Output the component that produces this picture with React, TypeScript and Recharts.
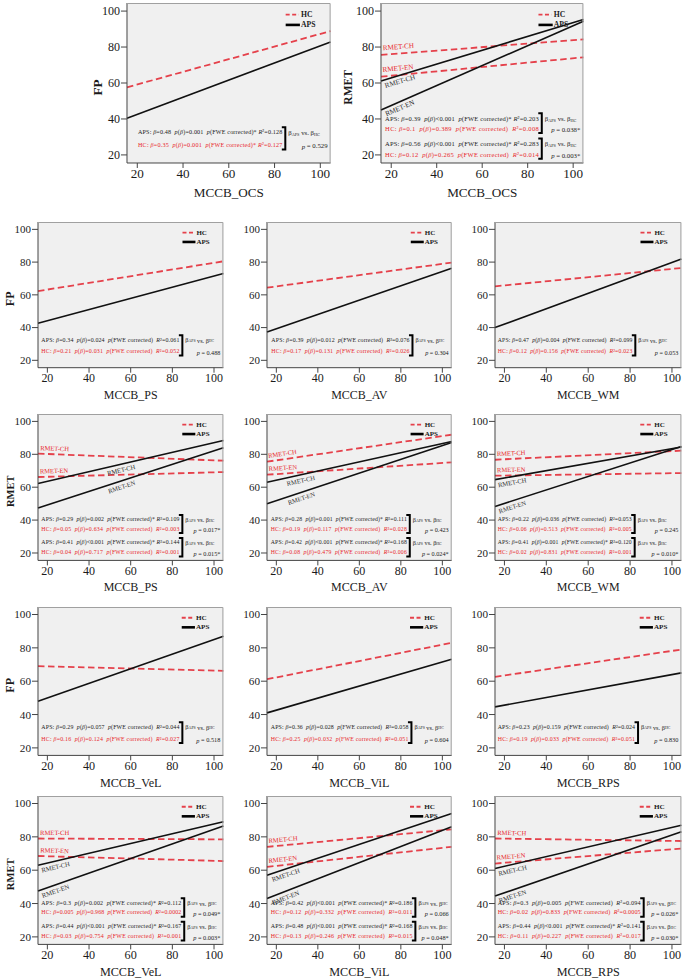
import React from 'react';
import { LineChart, Line, XAxis, YAxis, ReferenceArea } from 'recharts';

// MCCB domains, in panel order
const MEASURES = ['OCS', 'PS', 'AV', 'WM', 'VeL', 'ViL', 'RPS'];
const AXIS_TICKS = [20, 40, 60, 80, 100];
const LO = 15.5;
const HI = 104.5;
// the fitted lines run across the whole plot
const FIT_X = [LO, HI];

// fitted values at the left and right plot edge, one pair per domain
const FP_HC = [[57.6, 88.9], [62.3, 80.5], [64.4, 79.7], [65.2, 76.4], [69, 66.2], [61.2, 83], [62.6, 79]];
const FP_APS = [[40.4, 82.8], [42.6, 73.1], [37.3, 76.2], [40, 81.9], [48, 87], [41, 73.2], [44.6, 65]];
const RMET_CH_HC = [[75.6, 84.3], [80.4, 76.1], [75.5, 91.9], [76.7, 82.2], [79, 78.5], [74, 84.5], [79, 77.5]];
const RMET_EN_HC = [[63.5, 74.3], [66.2, 69.2], [67.6, 75.1], [67, 68.6], [68.5, 65.5], [62, 74], [64, 73]];
const RMET_CH_APS = [[61.1, 95.3], [62.3, 88.4], [63, 87.8], [64.6, 84.4], [63, 89], [57, 94], [61, 87]];
const RMET_EN_APS = [[45, 94.3], [47.3, 84], [50, 87.2], [48.3, 84.8], [47.5, 86.5], [43, 86], [44.5, 83]];

// [beta, p(beta), FWE significant, R2]
type Stat = [string, string, boolean, string];
const FP_APS_STATS: Stat[] = [
  ['0.48', '=0.001', true, '0.128'],
  ['0.34', '=0.024', false, '0.061'],
  ['0.39', '=0.012', false, '0.076'],
  ['0.47', '=0.004', false, '0.099'],
  ['0.29', '=0.057', false, '0.044'],
  ['0.36', '=0.028', false, '0.058'],
  ['0.23', '=0.159', false, '0.024'],
];
const FP_HC_STATS: Stat[] = [
  ['0.35', '=0.001', true, '0.127'],
  ['0.21', '=0.031', false, '0.052'],
  ['0.17', '=0.131', false, '0.026'],
  ['0.12', '=0.156', false, '0.023'],
  ['0.16', '=0.124', false, '0.027'],
  ['0.25', '=0.032', false, '0.051'],
  ['0.19', '=0.033', false, '0.051'],
];
const FP_P = ['0.529', '0.488', '0.304', '0.053', '0.518', '0.604', '0.830'];

const RMET_CH_APS_STATS: Stat[] = [
  ['0.39', '<0.001', true, '0.203'],
  ['0.29', '=0.002', true, '0.109'],
  ['0.28', '=0.001', true, '0.111'],
  ['0.22', '=0.036', false, '0.053'],
  ['0.3', '=0.002', true, '0.112'],
  ['0.42', '<0.001', true, '0.186'],
  ['0.3', '=0.005', false, '0.094'],
];
const RMET_CH_HC_STATS: Stat[] = [
  ['0.1', '=0.389', false, '0.008'],
  ['0.05', '=0.634', false, '0.003'],
  ['0.19', '=0.117', false, '0.028'],
  ['0.06', '=0.513', false, '0.005'],
  ['0.005', '=0.968', false, '0.0002'],
  ['0.12', '=0.332', false, '0.011'],
  ['0.02', '=0.833', false, '0.0005'],
];
const RMET_CH_P = ['0.038*', '0.017*', '0.423', '0.245', '0.049*', '0.066', '0.026*'];
const RMET_EN_APS_STATS: Stat[] = [
  ['0.56', '<0.001', true, '0.283'],
  ['0.41', '<0.001', true, '0.144'],
  ['0.42', '<0.001', true, '0.168'],
  ['0.41', '=0.001', true, '0.120'],
  ['0.44', '<0.001', true, '0.167'],
  ['0.48', '<0.001', true, '0.168'],
  ['0.44', '<0.001', true, '0.141'],
];
const RMET_EN_HC_STATS: Stat[] = [
  ['0.12', '=0.265', false, '0.014'],
  ['0.04', '=0.717', false, '0.001'],
  ['0.08', '=0.479', false, '0.006'],
  ['0.02', '=0.831', false, '0.001'],
  ['0.03', '=0.754', false, '0.001'],
  ['0.13', '=0.246', false, '0.015'],
  ['0.11', '=0.227', false, '0.017'],
];
const RMET_EN_P = ['0.003*', '0.015*', '0.024*', '0.010*', '0.003*', '0.048*', '0.030*'];

const SERIF = "'Liberation Serif', 'Times New Roman', serif";
const RED_LINE = '#e5414b';
const RED_TEXT = '#e81f2a';
const INK = '#1b1b1b';

type Box = { x0: number; x1: number; y0: number; y1: number };
type PanelDef = {
  kind: 'FP' | 'RMET';
  m: number;
  box: Box;
  yTitle?: number;
  textX: number;
  bracketX: number;
  blackX?: number;
  blackAnchor?: 'start' | 'middle';
};

const R1 = { y0: 3, y1: 163 };
const R2 = { y0: 221.7, y1: 367.4 };
const R3 = { y0: 414.3, y1: 560.7 };
const R4 = { y0: 606.8, y1: 755.2 };
const R5 = { y0: 795.8, y1: 944.2 };
const C1 = { x0: 38.3, x1: 223.7 };
const C2 = { x0: 267.3, x1: 452 };
const C3 = { x0: 495.3, x1: 681.7 };

const PANELS: PanelDef[] = [
  { kind: 'FP', m: 0, box: { x0: 126.7, x1: 330.3, ...R1 }, yTitle: -30, textX: 20.3, bracketX: 84.7 },
  { kind: 'RMET', m: 0, box: { x0: 380.8, x1: 583.2, ...R1 }, yTitle: -33, textX: 17.3, bracketX: 86.2, blackX: 16.5, blackAnchor: 'start' },
  { kind: 'FP', m: 1, box: { ...C1, ...R2 }, yTitle: -28, textX: 17.1, bracketX: 84.8 },
  { kind: 'FP', m: 2, box: { ...C2, ...R2 }, textX: 17.6, bracketX: 85.6 },
  { kind: 'FP', m: 3, box: { ...C3, ...R2 }, textX: 16.8, bracketX: 82.5 },
  { kind: 'RMET', m: 1, box: { ...C1, ...R3 }, yTitle: -28, textX: 17.1, bracketX: 84.8, blackX: 54.8, blackAnchor: 'middle' },
  { kind: 'RMET', m: 2, box: { ...C2, ...R3 }, textX: 17.3, bracketX: 84.3, blackX: 31.2, blackAnchor: 'middle' },
  { kind: 'RMET', m: 3, box: { ...C3, ...R3 }, textX: 16.8, bracketX: 82.2, blackX: 16.5, blackAnchor: 'start' },
  { kind: 'FP', m: 4, box: { ...C1, ...R4 }, yTitle: -28, textX: 17.1, bracketX: 84.8 },
  { kind: 'FP', m: 5, box: { ...C2, ...R4 }, textX: 17.3, bracketX: 85.1 },
  { kind: 'FP', m: 6, box: { ...C3, ...R4 }, textX: 16.8, bracketX: 83.8 },
  { kind: 'RMET', m: 4, box: { ...C1, ...R5 }, yTitle: -28, textX: 17.1, bracketX: 85.7, blackX: 16.5, blackAnchor: 'start' },
  { kind: 'RMET', m: 5, box: { ...C2, ...R5 }, textX: 17.3, bracketX: 87, blackX: 17, blackAnchor: 'start' },
  { kind: 'RMET', m: 6, box: { ...C3, ...R5 }, textX: 16.8, bracketX: 86.5, blackX: 16.5, blackAnchor: 'start' },
];

const YW = 34;
const MT = 8;
const MR = 12;
const XH = 40;

const it = { fontStyle: 'italic' as const };

// rough Times-like advance widths (em), to pick a font size that fits
const emWidth = (s: string) =>
  [...s].reduce((acc, c) => {
    if (c === ' ' || c === '.') return acc + 0.25;
    if (c === ':' ) return acc + 0.28;
    if ('()'.includes(c)) return acc + 0.333;
    if ('=<'.includes(c)) return acc + 0.564;
    if (c === '²') return acc + 0.3;
    if (/[A-Z]/.test(c)) return acc + (c === 'W' ? 0.944 : 0.67);
    if (/[a-z]/.test(c)) return acc + (c === 't' || c === 'r' ? 0.31 : 0.46);
    return acc + 0.5;
  }, 0);

const statString = (group: string, s: Stat) =>
  `${group}: β=${s[0]}  p(β)${s[1]}  p(FWE corrected)${s[2] ? '*' : ' '} R²=${s[3]}`;

const StatText = ({ x, y, len, fs, color, group, s }: any) => {
  const [b, pb, star, r2] = s as Stat;
  return (
    <text x={x} y={y} fontSize={fs} fill={color} fontFamily={SERIF} textLength={len}
      lengthAdjust="spacing" dominantBaseline="central" style={{ whiteSpace: 'pre' }}>
      {`${group}: `}<tspan style={it}>β</tspan>{`=${b}  `}<tspan style={it}>p</tspan>{'('}
      <tspan style={it}>β</tspan>{`)${pb}  `}<tspan style={it}>p</tspan>
      {`(FWE corrected)${star ? '*' : ' '} `}<tspan style={it}>R</tspan>{`²=${r2}`}
    </text>
  );
};

const Block = ({ sx, sy, w, k, p, textX, bracketX, yAps, yHc, aps, hc }: any) => {
  const a = sy(yAps);
  const h = sy(yHc);
  const bx = sx(bracketX);
  const x0 = sx(textX);
  const len = bx - x0 - 3;
  const em = Math.max(emWidth(statString('APS', aps)), emWidth(statString('HC', hc)));
  const fs = Math.min(6.4 * k, len / (em * 1.04));
  const cf = 6.2 * k;
  const sub = cf * 0.62;
  return (
    <g>
      <StatText x={x0} y={a} len={len} fs={fs} color={INK} group="APS" s={aps} />
      <StatText x={x0} y={h} len={len} fs={fs} color={RED_TEXT} group="HC" s={hc} />
      <path d={`M${bx - 3.5},${a - cf * 0.7} H${bx} V${h + cf * 0.7} H${bx - 3.5}`} fill="none" stroke="#000" strokeWidth={2} />
      <text x={bx + 3} y={a} fontSize={cf} fill={INK} fontFamily={SERIF} dominantBaseline="central" style={{ whiteSpace: 'pre' }}>
        β<tspan fontSize={sub} dy={cf * 0.25}>APS</tspan><tspan dy={-cf * 0.25}>{' vs. β'}</tspan>
        <tspan fontSize={sub} dy={cf * 0.25}>HC</tspan>
      </text>
      <text x={w - 3} y={h + 1} fontSize={cf} fill={INK} fontFamily={SERIF} textAnchor="end" dominantBaseline="central" style={{ whiteSpace: 'pre' }}>
        <tspan style={it}>p</tspan>{` = ${p}`}
      </text>
    </g>
  );
};

const CurveLabel = ({ sx, sy, w, h, vals, x, anchor, text, color, off, fs }: any) => {
  const v = vals[0] + ((x - LO) / (HI - LO)) * (vals[1] - vals[0]);
  const ang = (Math.atan2(-(vals[1] - vals[0]) * (h / (HI - LO)), w) * 180) / Math.PI;
  return (
    <g transform={`translate(${sx(x)},${sy(v)}) rotate(${ang})`}>
      <text x={0} y={off} fontSize={fs} fill={color} fontFamily={SERIF} textAnchor={anchor} dominantBaseline="central">
        {text}
      </text>
    </g>
  );
};

const Panel = ({ def }: { def: PanelDef }) => {
  const { kind, m, box } = def;
  const w = box.x1 - box.x0;
  const h = box.y1 - box.y0;
  const k = h / 146;
  const W = w + YW + MR;
  const H = h + MT + XH;
  const sx = (x: number) => ((x - LO) / (HI - LO)) * w;
  const sy = (y: number) => ((HI - y) / (HI - LO)) * h;

  const rows = FIT_X.map((x, i) =>
    kind === 'FP'
      ? { x, hc: FP_HC[m][i], aps: FP_APS[m][i] }
      : { x, hcCH: RMET_CH_HC[m][i], hcEN: RMET_EN_HC[m][i], apsCH: RMET_CH_APS[m][i], apsEN: RMET_EN_APS[m][i] }
  );
  const dash = { stroke: RED_LINE, strokeWidth: 1.8, strokeDasharray: '6.5 3.5', dot: false, isAnimationActive: false, type: 'linear' as const };
  const solid = { stroke: '#111', strokeWidth: 1.6, dot: false, isAnimationActive: false, type: 'linear' as const };
  const yTick = { fontSize: 11 * k, fill: INK, fontFamily: SERIF };
  const xTick = { fontSize: 12 * k, fill: INK, fontFamily: SERIF };
  const ctx = { sx, sy, w, h, k };

  return (
    <div style={{ position: 'absolute', left: box.x0 - YW, top: box.y0 - MT, width: W, height: H }}>
      <LineChart width={W} height={H} data={rows} margin={{ top: MT, right: MR, left: 0, bottom: 0 }}>
        <ReferenceArea x1={LO} x2={HI} y1={LO} y2={HI} fill="#f0f0f0" fillOpacity={1} stroke="none" />
        <XAxis type="number" dataKey="x" domain={[LO, HI]} ticks={AXIS_TICKS} interval={0} height={XH}
          tickSize={5} tickMargin={1} tick={xTick} axisLine={{ stroke: '#444' }} tickLine={{ stroke: '#444' }} />
        <YAxis type="number" domain={[LO, HI]} ticks={AXIS_TICKS} interval={0} width={YW}
          tickSize={6} tickMargin={1} tick={yTick} axisLine={{ stroke: '#444' }} tickLine={{ stroke: '#444' }} />
        {kind === 'FP' ? (
          <>
            <Line dataKey="hc" {...dash} />
            <Line dataKey="aps" {...solid} />
          </>
        ) : (
          <>
            <Line dataKey="hcCH" {...dash} />
            <Line dataKey="hcEN" {...dash} />
            <Line dataKey="apsCH" {...solid} />
            <Line dataKey="apsEN" {...solid} />
          </>
        )}
      </LineChart>
      <svg width={w} height={h} style={{ position: 'absolute', left: YW, top: MT, overflow: 'visible', pointerEvents: 'none' }}>
        <path d={`M0,0.5 H${w - 0.5} V${h}`} fill="none" stroke="#a0a0a0" strokeWidth={1} />
        {/* legend */}
        <line x1={w - 41 * k} x2={w - 29 * k} y1={10.6 * k} y2={10.6 * k} stroke={RED_LINE} strokeWidth={1.8} strokeDasharray="4 2.5" />
        <text x={w - 27 * k} y={10.6 * k} fontSize={7 * k} fontWeight="bold" fill={INK} fontFamily={SERIF} dominantBaseline="central">HC</text>
        <line x1={w - 41 * k} x2={w - 28 * k} y1={20 * k} y2={20 * k} stroke="#000" strokeWidth={2.6} />
        <text x={w - 27 * k} y={20 * k} fontSize={7 * k} fontWeight="bold" fill={INK} fontFamily={SERIF} dominantBaseline="central">APS</text>

        {kind === 'FP' ? (
          <Block {...ctx} p={FP_P[m]} textX={def.textX} bracketX={def.bracketX} yAps={32.7} yHc={25.6}
            aps={FP_APS_STATS[m]} hc={FP_HC_STATS[m]} />
        ) : (
          <>
            <Block {...ctx} p={RMET_CH_P[m]} textX={def.textX} bracketX={def.bracketX} yAps={40.5} yHc={34.8}
              aps={RMET_CH_APS_STATS[m]} hc={RMET_CH_HC_STATS[m]} />
            <Block {...ctx} p={RMET_EN_P[m]} textX={def.textX} bracketX={def.bracketX} yAps={26.5} yHc={20.5}
              aps={RMET_EN_APS_STATS[m]} hc={RMET_EN_HC_STATS[m]} />
            <CurveLabel {...ctx} vals={RMET_CH_HC[m]} x={16.5} anchor="start" text="RMET-CH" color={RED_TEXT} off={-6 * k} fs={6.5 * k} />
            <CurveLabel {...ctx} vals={RMET_EN_HC[m]} x={16.5} anchor="start" text="RMET-EN" color={RED_TEXT} off={-6 * k} fs={6.5 * k} />
            <CurveLabel {...ctx} vals={RMET_CH_APS[m]} x={def.blackX} anchor={def.blackAnchor} text="RMET-CH" color="#333" off={5.5 * k} fs={6.5 * k} />
            <CurveLabel {...ctx} vals={RMET_EN_APS[m]} x={def.blackX} anchor={def.blackAnchor} text="RMET-EN" color="#333" off={5.5 * k} fs={6.5 * k} />
          </>
        )}

        <text x={w / 2} y={h + 27 * k} fontSize={12 * k} fill={INK} fontFamily={SERIF} textAnchor="middle" dominantBaseline="central">
          {`MCCB_${MEASURES[m]}`}
        </text>
        {def.yTitle !== undefined && (
          <text transform={`translate(${def.yTitle},${h / 2 + 4 * k}) rotate(-90)`} fontSize={(kind === 'FP' ? 12 : 10.5) * k}
            fontWeight="bold" fill={INK} fontFamily={SERIF} textAnchor="middle" dominantBaseline="central">
            {kind}
          </text>
        )}
      </svg>
    </div>
  );
};

export default function App() {
  return (
    <div style={{ position: 'absolute', left: 0, top: 0, width: 685, height: 978, background: '#fff', overflow: 'hidden' }}>
      {PANELS.map((p, i) => (
        <Panel key={i} def={p} />
      ))}
    </div>
  );
}
